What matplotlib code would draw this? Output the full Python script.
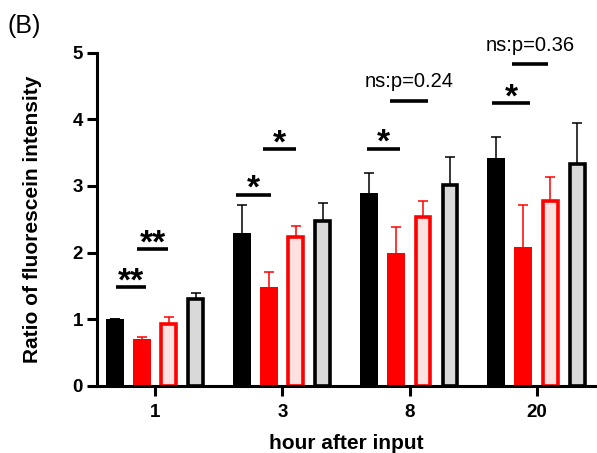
import matplotlib.pyplot as plt
import numpy as np

plt.rcParams['font.family'] = ['Liberation Sans', 'DejaVu Sans']

hours = ['1', '3', '8', '20']

black_mean = [1.00, 2.30, 2.90, 3.42]
black_err = [0.00, 0.42, 0.30, 0.31]
red_mean = [0.71, 1.48, 1.99, 2.09]
red_err = [0.03, 0.23, 0.40, 0.62]
pink_mean = [0.93, 2.23, 2.54, 2.78]
pink_err = [0.11, 0.17, 0.23, 0.36]
gray_mean = [1.30, 2.47, 3.02, 3.33]
gray_err = [0.09, 0.28, 0.41, 0.62]

# significance marks: group, line start/end relative to group centre, height, label
sig_marks = [
    (0, -0.306, -0.071, 1.48, '**'),
    (0, -0.139, 0.104, 2.05, '**'),
    (1, -0.367, -0.086, 2.87, '*'),
    (1, -0.149, 0.104, 3.55, '*'),
    (2, -0.338, -0.079, 3.56, '*'),
    (2, -0.157, 0.144, 4.28, 'ns:p=0.24'),
    (3, -0.351, -0.053, 4.24, '*'),
    (3, -0.196, 0.091, 4.83, 'ns:p=0.36'),
]

fig = plt.figure(figsize=(5.97, 4.53), dpi=100)
ax = fig.add_axes([0.1625, 0.148, 0.834, 0.7357])

x = np.arange(len(hours))
step = 0.212
offsets = np.array([-1.5, -0.5, 0.5, 1.5]) * step
w_full = 0.141
w_edge = 0.115

# errors are drawn both ways but sit behind the bars, so only the upper half shows
ebar = dict(fmt='none', elinewidth=1.1, capsize=3.6, capthick=1.1, zorder=1)

ax.bar(x + offsets[0], black_mean, w_full, color='black', zorder=2)
ax.errorbar(x + offsets[0], black_mean, yerr=black_err, ecolor='black', **ebar)

ax.bar(x + offsets[1], red_mean, w_full, color='#ff0000', zorder=2)
ax.errorbar(x + offsets[1], red_mean, yerr=red_err, ecolor='#ff0000', **ebar)

ax.bar(x + offsets[2], pink_mean, w_edge, color='#ffe0e0',
       edgecolor='#ff0000', linewidth=2.6, zorder=2)
ax.errorbar(x + offsets[2], pink_mean, yerr=pink_err, ecolor='#ff0000', **ebar)

ax.bar(x + offsets[3], gray_mean, w_edge, color='#d9d9d9',
       edgecolor='black', linewidth=2.6, zorder=2)
ax.errorbar(x + offsets[3], gray_mean, yerr=gray_err, ecolor='black', **ebar)

for g, a, b, h, lab in sig_marks:
    x0, x1 = g + a, g + b
    ax.plot([x0, x1], [h, h], color='black', lw=2.6, solid_capstyle='butt')
    if lab.startswith('ns'):
        ax.text((x0 + x1) / 2, h + 0.14, lab, ha='center', va='bottom',
                fontsize=14.5)
    else:
        ax.text((x0 + x1) / 2, h - 0.045, lab, ha='center', va='baseline',
                fontsize=24, fontweight='bold')

ax.set_xlim(-0.456, 3.456)
ax.set_ylim(0, 5)
ax.set_xticks(x)
ax.set_xticklabels(hours)
ax.set_yticks(range(6))

for s in ['top', 'right']:
    ax.spines[s].set_visible(False)
for s in ['left', 'bottom']:
    ax.spines[s].set_linewidth(2.2)
    ax.spines[s].set_zorder(5)

ax.tick_params(width=2.2, length=7, labelsize=13.5)
ax.tick_params(axis='x', pad=6)
ax.tick_params(axis='y', pad=3)
for lab in ax.get_xticklabels() + ax.get_yticklabels():
    lab.set_fontweight('bold')

ax.set_xlabel('hour after input', fontsize=15, fontweight='bold', labelpad=9.5)
ax.set_ylabel('Ratio of fluorescein intensity', fontsize=15,
              fontweight='bold', labelpad=22)

fig.text(0.013, 0.968, '(B)', fontsize=18, va='top', ha='left')

fig.savefig('out.png', dpi=100)
